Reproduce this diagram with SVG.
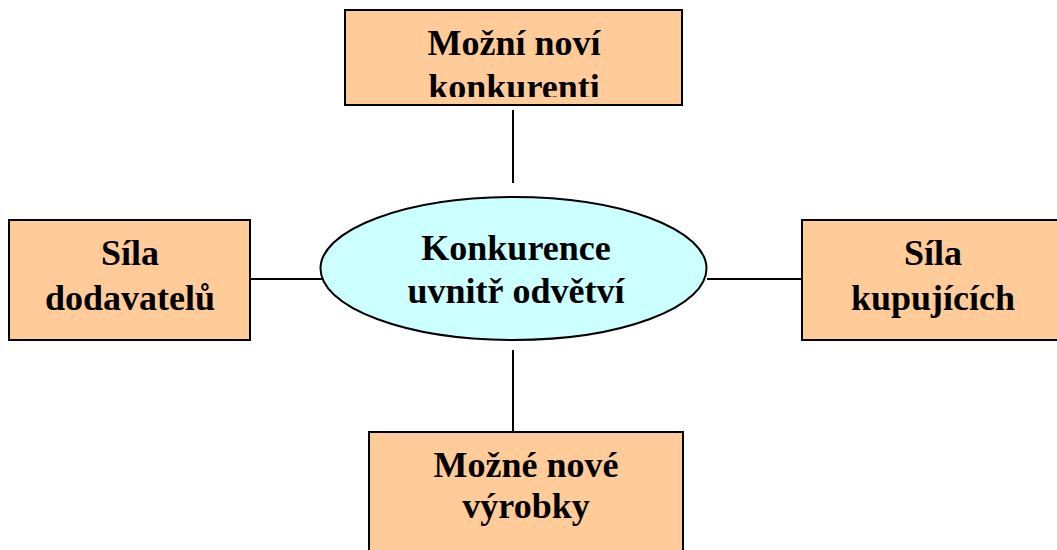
<svg xmlns="http://www.w3.org/2000/svg" width="1057" height="550" viewBox="0 0 1057 550">
<style>
.box{fill:#FFCC99;stroke:#000;stroke-width:2}
.ell{fill:#CCFFFF;stroke:#000;stroke-width:2}
.t{font-family:"Liberation Serif","Times New Roman",serif;font-weight:bold;font-size:36px;fill:#000;text-anchor:middle}
.c{stroke:#000;stroke-width:2;fill:none}
</style>
<defs>
<clipPath id="clipTop"><rect x="346" y="11" width="335" height="86"/></clipPath>
</defs>
<g id="connectors">
<line class="c" x1="513" y1="110" x2="513" y2="183"/>
<line class="c" x1="250" y1="279" x2="322" y2="279"/>
<line class="c" x1="707" y1="279" x2="802" y2="279"/>
<line class="c" x1="513" y1="350" x2="513" y2="432"/>
</g>
<g id="top">
<rect class="box" x="345" y="10" width="337" height="95"/>
<g clip-path="url(#clipTop)">
<text class="t" x="514" y="55">Možní noví</text>
<text class="t" x="514" y="99">konkurenti</text>
</g>
</g>
<g id="left">
<rect class="box" x="9" y="220" width="241" height="120"/>
<text class="t" x="130" y="265">Síla</text>
<text class="t" x="130" y="310">dodavatelů</text>
</g>
<g id="center">
<ellipse class="ell" cx="513.5" cy="268.5" rx="193" ry="71.5"/>
<text class="t" x="516" y="260">Konkurence</text>
<text class="t" x="516" y="303">uvnitř odvětví</text>
</g>
<g id="right">
<rect class="box" x="802" y="220" width="260" height="120"/>
<text class="t" x="933" y="265">Síla</text>
<text class="t" x="933" y="310">kupujících</text>
</g>
<g id="bottom">
<rect class="box" x="369" y="432" width="314" height="130"/>
<text class="t" x="526" y="477">Možné nové</text>
<text class="t" x="526" y="518">výrobky</text>
</g>
</svg>
